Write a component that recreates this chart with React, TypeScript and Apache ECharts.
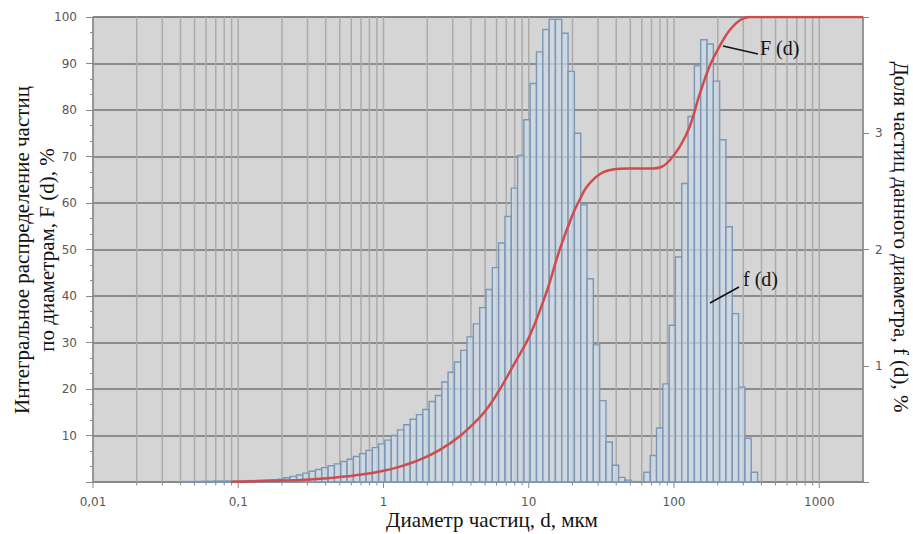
import React, { useEffect, useRef } from 'react';
import * as echarts from 'echarts';

// Histogram f(d): lower bin edges (µm, last value = upper edge of last bin) and heights (%)
const mode1Edges = [
  0.04155, 0.04593, 0.05077, 0.05611, 0.06203, 0.06856, 0.07578, 0.08377, 0.09259,
  0.1022, 0.113, 0.1249, 0.1381, 0.1526, 0.1687, 0.1865, 0.2061, 0.2278, 0.2518, 0.2783, 0.3077,
  0.3401, 0.3759, 0.4155, 0.4593, 0.5077, 0.5611, 0.6203, 0.6856, 0.7578, 0.8377, 0.9259,
  1.022, 1.13, 1.249, 1.381, 1.526, 1.687, 1.865, 2.061, 2.278, 2.518, 2.783, 3.077,
  3.401, 3.759, 4.155, 4.593, 5.077, 5.611, 6.203, 6.856, 7.578, 8.377, 9.259,
  10.22, 11.3, 12.49, 13.81, 15.26, 16.87, 18.65, 20.61, 22.78, 25.18, 27.83, 30.77,
  34.01, 37.59, 41.55, 45.93, 50.77, 56.11,
];
const mode1F = [
  0.004, 0.004, 0.004, 0.006, 0.006, 0.008, 0.008, 0.008, 0.01,
  0.01, 0.012, 0.012, 0.014, 0.016, 0.02, 0.024, 0.036, 0.048, 0.06, 0.076, 0.092,
  0.108, 0.124, 0.14, 0.156, 0.176, 0.196, 0.22, 0.244, 0.272, 0.296, 0.328,
  0.36, 0.4, 0.448, 0.492, 0.54, 0.58, 0.624, 0.692, 0.744, 0.86, 0.944, 1.032,
  1.132, 1.248, 1.36, 1.5, 1.656, 1.844, 2.056, 2.284, 2.528, 2.808, 3.116,
  3.428, 3.7, 3.892, 3.98, 3.98, 3.86, 3.532, 3.0, 2.384, 1.748, 1.18, 0.7,
  0.344, 0.144, 0.04, 0.016, 0.004,
];
const mode2Edges = [
  62.03, 68.56, 75.78, 83.77, 92.59, 102.2, 113.0, 124.9, 138.1, 152.6,
  168.7, 186.5, 206.1, 227.8, 251.8, 278.3, 307.7, 340.1, 375.9,
];
const mode2F = [
  0.084, 0.228, 0.464, 0.844, 1.348, 1.936, 2.568, 3.144, 3.58,
  3.804, 3.768, 3.448, 2.944, 2.196, 1.448, 0.816, 0.376, 0.084,
];

// Cumulative distribution F(d)
const cumD = [
  0.089, 0.14, 0.2, 0.31, 0.43, 0.59, 0.75, 1.0, 1.3, 1.78, 2.44, 3.36, 4.6, 5.4, 6.32,
  7.78, 10.2, 13.3, 16.4, 20.1, 22.5, 25.1, 30.8, 37.9, 49.6, 68.2, 82.5, 93.5, 109.6,
  128.5, 150.6, 176.3, 206.6, 242, 284, 332, 2000,
];
const cumF = [
  0, 0.2, 0.3, 0.55, 0.85, 1.3, 1.7, 2.4, 3.3, 4.8, 6.9, 9.9, 13.9, 16.6, 19.9,
  24.9, 31.6, 41, 50.2, 57.6, 60.8, 63.5, 66.2, 67.2, 67.4, 67.4, 67.8, 69.2, 72.1,
  76.5, 83.5, 89.5, 93.8, 97.2, 99.3, 100, 100,
];

const xTickLabels = ['0,01', '0,1', '1', '10', '100', '1000'];
const gridDecades = [0.01, 0.1, 1, 10, 100, 1000];
const gridMultipliers = [1, 2, 3, 4, 5, 6, 7, 8, 9];

const LABEL_FONT = 'DejaVu Sans';
const TITLE_FONT = 'Liberation Serif';
const LABEL_COLOR = '#575757';
const AXIS_COLOR = '#8a8a8a';
const TITLE_SIZE = 21;

export default function App() {
  const ref = useRef<HTMLDivElement>(null);

  useEffect(() => {
    document.body.style.margin = '0';
    if (!ref.current) return;
    const chart = echarts.init(ref.current, undefined, { renderer: 'svg' });

    const bins: number[][] = [];
    mode1F.forEach((f, i) => bins.push([mode1Edges[i], mode1Edges[i + 1], f]));
    mode2F.forEach((f, i) => bins.push([mode2Edges[i], mode2Edges[i + 1], f]));

    const gridVals: number[][] = [];
    gridDecades.forEach((d) =>
      gridMultipliers.forEach((m) => {
        const v = d * m;
        if (v <= 1000.0001) gridVals.push([v, 0, m === 1 ? 1 : 0]);
      })
    );

    const cumData = cumD.map((d, i) => [d, cumF[i]]);

    chart.setOption({
      animation: false,
      grid: {
        left: 93,
        top: 17,
        width: 770,
        height: 465,
        show: true,
        backgroundColor: '#d5d5d5',
        borderColor: AXIS_COLOR,
        borderWidth: 1,
      },
      xAxis: {
        type: 'log',
        logBase: 10,
        min: 0.01,
        max: 2000,
        axisLine: { show: true, lineStyle: { color: AXIS_COLOR, width: 1.5 } },
        axisTick: { show: false },
        splitLine: { show: false },
        axisLabel: {
          margin: 14,
          color: LABEL_COLOR,
          fontSize: 12,
          fontFamily: LABEL_FONT,
          formatter: (v: number) => {
            const e = Math.log10(v);
            const r = Math.round(e);
            if (Math.abs(e - r) > 1e-6) return '';
            return xTickLabels[r + 2] ?? '';
          },
        },
      },
      yAxis: [
        {
          type: 'value',
          min: 0,
          max: 100,
          interval: 10,
          position: 'left',
          axisLine: { show: true, lineStyle: { color: AXIS_COLOR, width: 1.5 } },
          axisTick: { show: true, length: 7, lineStyle: { color: AXIS_COLOR } },
          minorTick: { show: true, splitNumber: 3, length: 3, lineStyle: { color: AXIS_COLOR } },
          axisLabel: {
            margin: 16,
            color: LABEL_COLOR,
            fontSize: 12,
            fontFamily: LABEL_FONT,
            formatter: (v: number) => (v === 0 ? '' : String(v)),
          },
          splitLine: { show: true, lineStyle: { color: '#737373', width: 1.5 } },
        },
        {
          type: 'value',
          min: 0,
          max: 4,
          interval: 1,
          position: 'right',
          axisLine: { show: true, lineStyle: { color: AXIS_COLOR, width: 1.5 } },
          axisTick: { show: true, length: 6, lineStyle: { color: AXIS_COLOR } },
          axisLabel: {
            margin: 12,
            color: LABEL_COLOR,
            fontSize: 12,
            fontFamily: LABEL_FONT,
            formatter: (v: number) => (v === 0 || v === 4 ? '' : String(v)),
          },
          splitLine: { show: false },
        },
      ],
      series: [
        {
          type: 'custom',
          name: 'grid',
          silent: true,
          clip: false,
          z: 1,
          xAxisIndex: 0,
          yAxisIndex: 0,
          data: gridVals,
          encode: { x: 0, y: 1 },
          renderItem: (_p: any, api: any) => {
            const v = api.value(0);
            const major = api.value(2) === 1;
            const top = api.coord([v, 100]);
            const bot = api.coord([v, 0]);
            const children: any[] = [];
            if (v > 0.0101) {
              children.push({
                type: 'line',
                shape: { x1: top[0], y1: top[1], x2: bot[0], y2: bot[1] },
                style: { stroke: '#ababab', lineWidth: 1.5 },
              });
            }
            children.push({
              type: 'line',
              shape: { x1: bot[0], y1: bot[1], x2: bot[0], y2: bot[1] + (major ? 6 : 3.5) },
              style: { stroke: AXIS_COLOR, lineWidth: 1 },
            });
            return { type: 'group', children };
          },
        },
        {
          type: 'custom',
          name: 'f (d)',
          z: 2,
          xAxisIndex: 0,
          yAxisIndex: 1,
          data: bins,
          encode: { x: [0, 1], y: 2 },
          renderItem: (_p: any, api: any) => {
            const lo = api.value(0);
            const hi = api.value(1);
            const v = api.value(2);
            const a = api.coord([lo, v]);
            const b = api.coord([hi, 0]);
            return {
              type: 'rect',
              shape: { x: a[0], y: a[1], width: b[0] - a[0], height: b[1] - a[1] },
              style: { fill: 'rgba(205,216,230,0.72)', stroke: '#7b97b5', lineWidth: 1.4 },
            };
          },
        },
        {
          type: 'line',
          name: 'F (d)',
          z: 3,
          xAxisIndex: 0,
          yAxisIndex: 0,
          data: cumData,
          showSymbol: false,
          smooth: 0.35,
          lineStyle: { color: '#d24b4b', width: 2.5 },
        },
      ],
      graphic: [
        {
          type: 'text',
          x: 34,
          y: 250,
          rotation: Math.PI / 2,
          style: {
            text: 'Интегральное распределение частиц\nпо диаметрам, F (d), %',
            fontSize: TITLE_SIZE,
            fontFamily: TITLE_FONT,
            fill: '#111',
            align: 'center',
            verticalAlign: 'middle',
            lineHeight: 25,
          },
        },
        {
          type: 'text',
          x: 901,
          y: 237,
          rotation: -Math.PI / 2,
          style: {
            text: 'Доля частиц данного диаметра, f (d), %',
            fontSize: TITLE_SIZE,
            fontFamily: TITLE_FONT,
            fill: '#111',
            align: 'center',
            verticalAlign: 'middle',
          },
        },
        {
          type: 'text',
          x: 492,
          y: 520,
          style: {
            text: 'Диаметр частиц, d, мкм',
            fontSize: TITLE_SIZE,
            fontFamily: TITLE_FONT,
            fill: '#111',
            align: 'center',
            verticalAlign: 'middle',
          },
        },
        {
          type: 'line',
          shape: { x1: 723, y1: 46, x2: 758, y2: 54 },
          style: { stroke: '#111', lineWidth: 1.5 },
          z: 10,
        },
        {
          type: 'text',
          x: 760,
          y: 48,
          style: {
            text: 'F (d)',
            fontSize: 20,
            fontFamily: TITLE_FONT,
            fill: '#111',
            align: 'left',
            verticalAlign: 'middle',
          },
          z: 10,
        },
        {
          type: 'line',
          shape: { x1: 710, y1: 303, x2: 739, y2: 287 },
          style: { stroke: '#111', lineWidth: 1.5 },
          z: 10,
        },
        {
          type: 'text',
          x: 743,
          y: 279,
          style: {
            text: 'f (d)',
            fontSize: 20,
            fontFamily: TITLE_FONT,
            fill: '#111',
            align: 'left',
            verticalAlign: 'middle',
          },
          z: 10,
        },
      ],
    });

    return () => chart.dispose();
  }, []);

  return <div ref={ref} style={{ width: 913, height: 534 }} />;
}
